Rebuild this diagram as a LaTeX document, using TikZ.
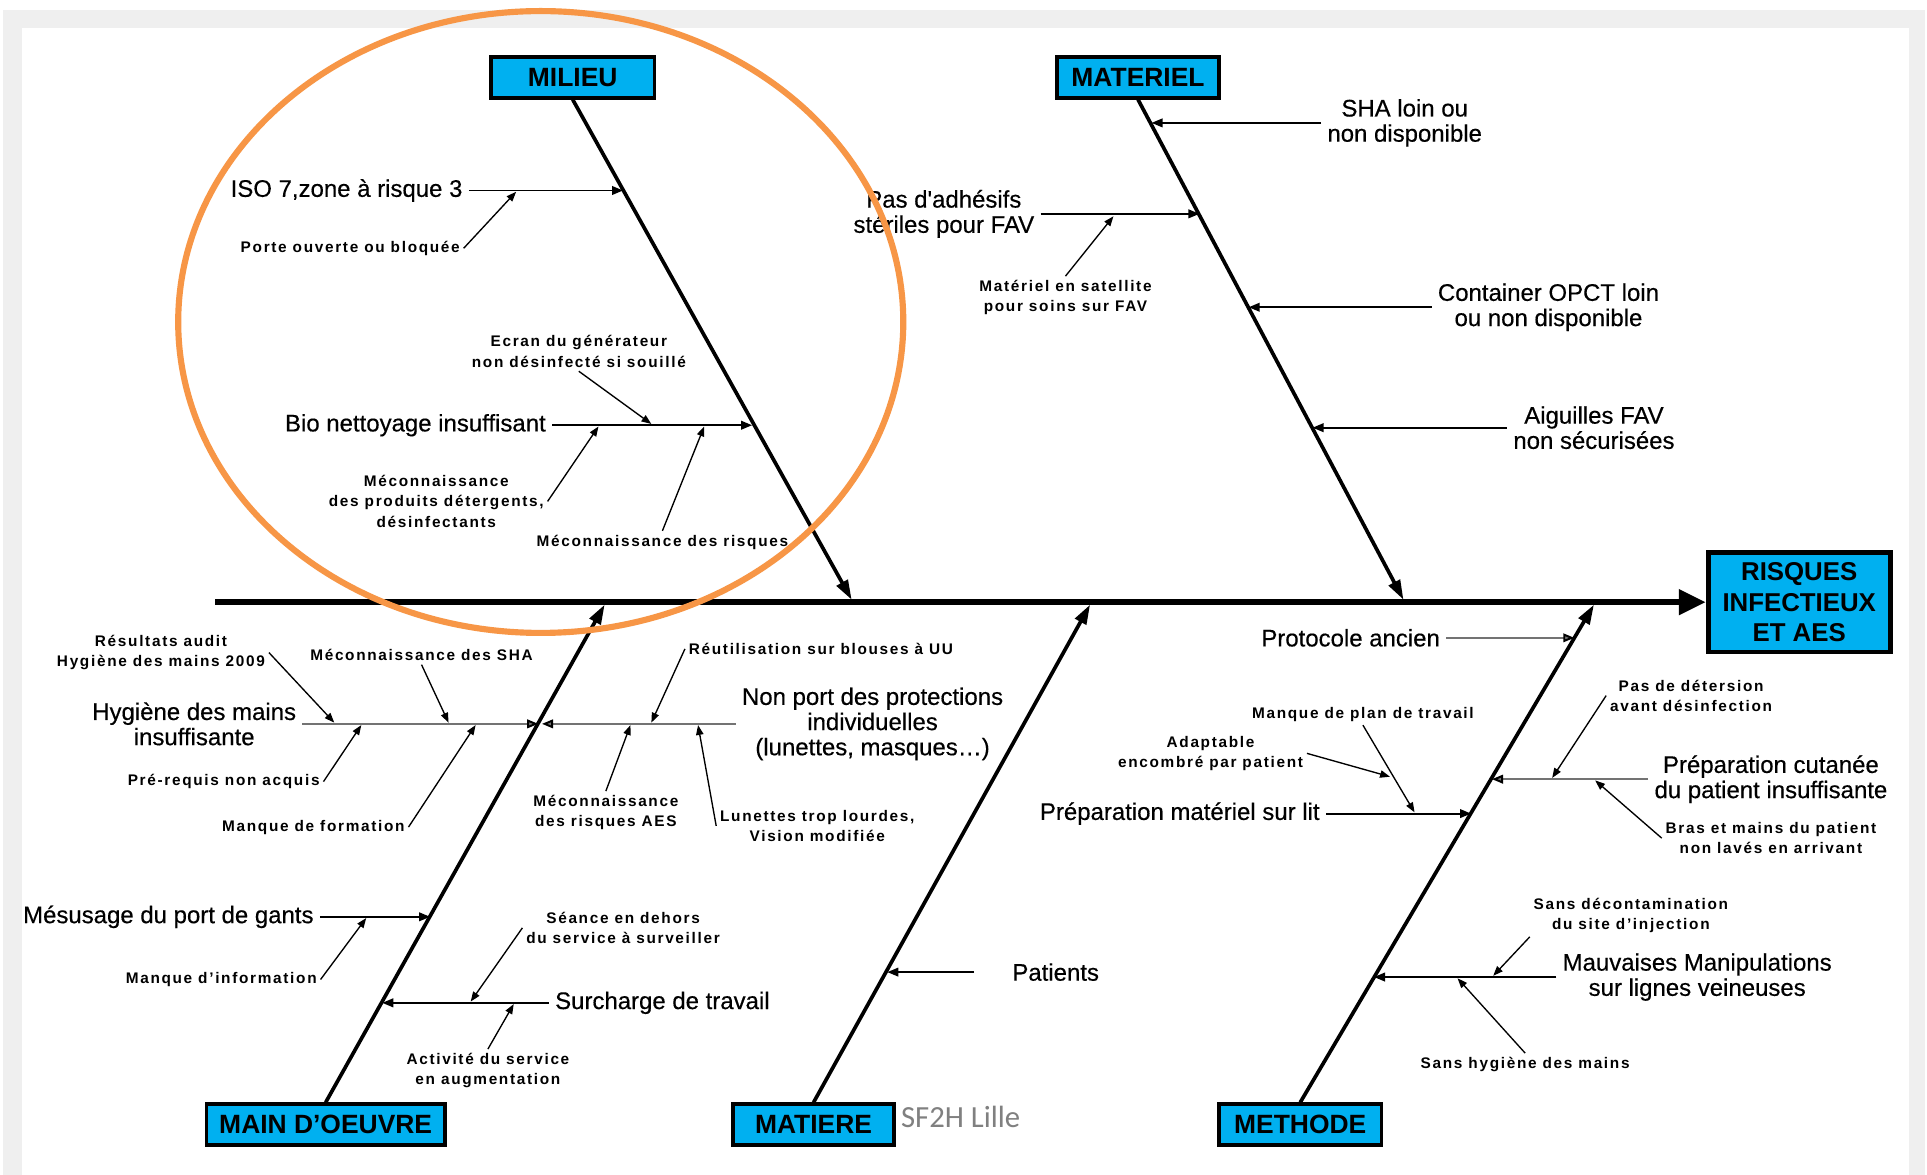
\documentclass[tikz,border=0pt]{standalone}
\usepackage{fontspec}
\setmainfont{Liberation Sans}
\newfontfamily\causefamily[FakeBold=0.4]{Liberation Sans}
\newfontfamily\twigfamily[LetterSpace=11]{Liberation Sans}
\newfontfamily\notefamily{Carlito}
\usetikzlibrary{arrows.meta}
\definecolor{causeblue}{HTML}{00B0F0}
\definecolor{ringorange}{HTML}{F79646}
\definecolor{framegray}{HTML}{EFEFEF}
\tikzset{
	causebox/.style={rectangle, draw=black, line width=3pt, fill=causeblue, inner sep=0pt,
		minimum height=33pt, font=\fontsize{21.5}{24.5}\selectfont\bfseries},
	bigtext/.style={align=center, inner sep=5pt, font=\causefamily\fontsize{19.5}{20.5}\selectfont},
	smalltext/.style={align=center, inner sep=3pt, font=\twigfamily\bfseries\fontsize{12.5}{16.5}\selectfont},
	spine/.style={line width=5pt, -{Triangle[length=22pt,width=20pt]}},
	bone/.style={line width=3pt, -{Triangle[length=16pt,width=10pt]}},
	branch/.style={line width=1.6pt, -{Triangle[length=9pt,width=7pt]}},
	greybranch/.style={line width=1.6pt, black!55, -{Triangle[length=9pt,width=7pt,black]}},
	twig/.style={line width=1.1pt, -{Triangle[length=8pt,width=6pt]}},
}
\begin{document}
\begin{tikzpicture}[x=1pt,y=-1pt]
				\useasboundingbox (0,0) rectangle (1568,956);
				\fill[framegray] (2.4,8.1) rectangle (1566.3,956);
				\fill[white] (17.9,22.8) rectangle (1553.3,956);
				
				% effect and main spine
				\node[causebox, line width=4pt, minimum width=148pt, minimum height=81pt, align=center,
					font=\fontsize{21}{24.5}\selectfont\bfseries] (risques) at (1464,490) {RISQUES\\INFECTIEUX\\ET AES};
				\coordinate (spineStart) at (175,490);
				\path [spine] (spineStart) edge (risques);
				
				% categories
				\begin{scope}[every node/.style={causebox}]
					\node[minimum width=133pt] (milieu) at (466,63) {MILIEU};
					\node[minimum width=132pt] (materiel) at (926,63) {MATERIEL};
					\node[minimum width=194pt] (mainoeuvre) at (265,915) {MAIN D’OEUVRE};
					\node[minimum width=131pt] (matiere) at (662,915) {MATIERE};
					\node[minimum width=132pt] (methode) at (1058,915) {METHODE};
				\end{scope}
				\coordinate (milieuTip) at (693,488);
				\coordinate (materielTip) at (1142,488);
				\coordinate (mainTip) at (492,492);
				\coordinate (matiereTip) at (887,492);
				\coordinate (methodeTip) at (1297,492);
				\path [bone] (milieu.south) edge (milieuTip)
					(materiel.south) edge (materielTip)
					(mainoeuvre.north) edge (mainTip)
					(matiere.north) edge (matiereTip)
					(methode.north) edge (methodeTip);
				
				% causes
				\begin{scope}[every node/.style={bigtext}]
					\node (iso) at (282,155) {ISO 7,zone à risque 3};
					\node (bionettoyage) at (338,346) {Bio nettoyage insuffisant};
					\node (sha) at (1143,100) {SHA loin ou\\non disponible};
					\node (adhesifs) at (768,174) {Pas d'adhésifs\\stériles pour FAV};
					\node (opct) at (1260,250) {Container OPCT loin\\ou non disponible};
					\node (aiguilles) at (1297,348) {Aiguilles FAV\\non sécurisées};
					\node (hygiene) at (158,589) {Hygiène des mains\\insuffisante};
					\node (nonport) at (710,589) {Non port des protections\\individuelles\\(lunettes, masques…)};
					\node (mesusage) at (137,746) {Mésusage du port de gants};
					\node (surcharge) at (539,816) {Surcharge de travail};
					\node (patients) at (859,791) {Patients};
					\node (protocole) at (1099,519) {Protocole ancien};
					\node (prepmateriel) at (960,662) {Préparation matériel sur lit};
					\node (prepcutanee) at (1441,634) {Préparation cutanée\\du patient insuffisante};
					\node (manipulations) at (1381,795) {Mauvaises Manipulations\\sur lignes veineuses};
				\end{scope}
				\coordinate (isoTip) at (507,155);
				\coordinate (bioTip) at (612,346);
				\coordinate (shaTip) at (937,100);
				\coordinate (adhesifsTip) at (976,174);
				\coordinate (opctTip) at (1016,250);
				\coordinate (aiguillesTip) at (1068,348);
				\coordinate (hygieneTip) at (438,589);
				\coordinate (nonportTip) at (441,589);
				\coordinate (mesusageTip) at (350,746);
				\coordinate (surchargeTip) at (311,816);
				\coordinate (patientsTip) at (722,791);
				\coordinate (protocoleTip) at (1281,519);
				\coordinate (prepmaterielTip) at (1197,662);
				\coordinate (prepcutaneeTip) at (1214,634);
				\coordinate (manipulationsTip) at (1118,795);
				\path [branch] (iso) edge (isoTip)
					(bionettoyage) edge (bioTip)
					(sha) edge (shaTip)
					(adhesifs) edge (adhesifsTip)
					(opct) edge (opctTip)
					(aiguilles) edge (aiguillesTip)
					(mesusage) edge (mesusageTip)
					(surcharge) edge (surchargeTip)
					([xshift=-26pt]patients.west) edge (patientsTip)
					(prepmateriel) edge (prepmaterielTip)
					(manipulations) edge (manipulationsTip);
				\path [greybranch] (hygiene) edge (hygieneTip)
					(nonport) edge (nonportTip)
					(protocole) edge (protocoleTip)
					(prepcutanee) edge (prepcutaneeTip);
				
				% sub-causes
				\begin{scope}[every node/.style={smalltext}]
					\node (porte) at (285,202) {Porte ouverte ou bloquée};
					\node (ecran) at (471,286) {Ecran du générateur\\non désinfecté si souillé};
					\node (mecproduits) at (355,408) {Méconnaissance\\des produits détergents,\\désinfectants};
					\node (mecrisques) at (539,441) {Méconnaissance des risques};
					\node (satellite) at (867,242) {Matériel en satellite\\pour soins sur FAV};
					\node (audit) at (131,531) {Résultats audit\\Hygiène des mains 2009};
					\node (mecsha) at (343,533) {Méconnaissance des SHA};
					\node (prerequis) at (182,636) {Pré-requis non acquis};
					\node (formation) at (255,673) {Manque de formation};
					\node (blouses) at (668,528) {Réutilisation sur blouses à UU};
					\node (mecaes) at (493,661) {Méconnaissance\\des risques AES};
					\node (lunettes) at (665,672) {Lunettes trop lourdes,\\Vision modifiée};
					\node (information) at (180,797) {Manque d’information};
					\node (seance) at (507,755) {Séance en dehors\\du service à surveiller};
					\node (activite) at (397,871) {Activité du service\\en augmentation};
					\node (plantravail) at (1109,581) {Manque de plan de travail};
					\node (adaptable) at (985,613) {Adaptable\\encombré par patient};
					\node (detersion) at (1376,566) {Pas de détersion\\avant désinfection};
					\node (bras) at (1441,682) {Bras et mains du patient\\non lavés en arrivant};
					\node (decontamination) at (1327,745) {Sans décontamination\\du site d’injection};
					\node (sanshygiene) at (1241,866) {Sans hygiène des mains};
				\end{scope}
				\coordinate (porteTip) at (420,156);
				\coordinate (ecranTip) at (530,345);
				\coordinate (mecproduitsTip) at (487,347);
				\coordinate (mecrisquesTip) at (573,347);
				\coordinate (satelliteTip) at (906,176);
				\coordinate (auditTip) at (272,588);
				\coordinate (mecshaTip) at (365,588);
				\coordinate (prerequisTip) at (294,590);
				\coordinate (formationTip) at (387,590);
				\coordinate (blousesTip) at (530,588);
				\coordinate (mecaesTip) at (513,590);
				\coordinate (lunettesTip) at (568,590);
				\coordinate (informationTip) at (298,747);
				\coordinate (seanceTip) at (383,815);
				\coordinate (activiteTip) at (418,817);
				\coordinate (plantravailTip) at (1151,661);
				\coordinate (adaptableTip) at (1131,632);
				\coordinate (detersionTip) at (1263,633);
				\coordinate (brasTip) at (1298,635);
				\coordinate (decontaminationTip) at (1215,794);
				\coordinate (sanshygieneTip) at (1186,796);
				\path [twig] (porte.east) edge (porteTip)
					(ecran.south) edge (ecranTip)
					(mecproduits.east) edge (mecproduitsTip)
					(mecrisques.north) edge (mecrisquesTip)
					(satellite.north) edge (satelliteTip)
					(audit.east) edge (auditTip)
					(mecsha.south) edge (mecshaTip)
					(prerequis.east) edge (prerequisTip)
					(formation.east) edge (formationTip)
					(blouses.west) edge (blousesTip)
					(mecaes.north) edge (mecaesTip)
					(lunettes.west) edge (lunettesTip)
					(information.east) edge (informationTip)
					(seance.west) edge (seanceTip)
					(activite.north) edge (activiteTip)
					(plantravail.south) edge (plantravailTip)
					(adaptable.east) edge (adaptableTip)
					(detersion.west) edge (detersionTip)
					(bras.west) edge (brasTip)
					(decontamination.south west) edge (decontaminationTip)
					(sanshygiene.north) edge (sanshygieneTip);
				
				\node[anchor=west, inner sep=0pt, text=black!50, font=\notefamily\fontsize{25}{30}\selectfont] (sflille) at (733,909) {SF2H Lille};
				\draw[ringorange, line width=5pt] (440,262) ellipse [x radius=295pt, y radius=253pt];
			\end{tikzpicture}
\end{document}
